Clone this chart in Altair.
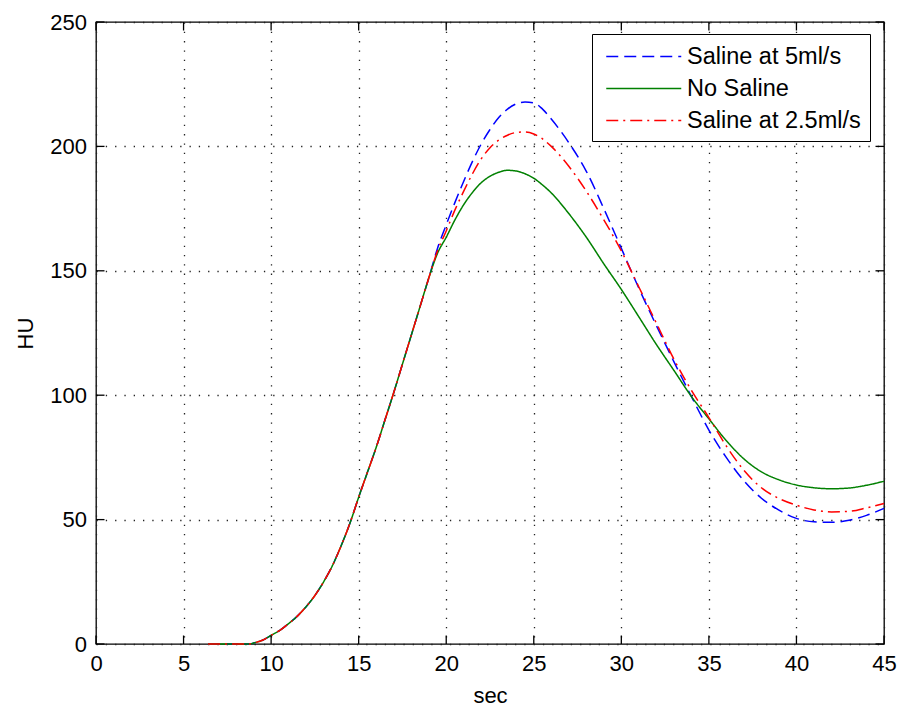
import altair as alt
import pandas as pd

# ---- data ----
series_names = ["Saline at 5ml/s", "No Saline", "Saline at 2.5ml/s"]
series_colors = ["#0000ff", "#008000", "#ff0000"]
series_dashes = [[12, 6], [1, 0], [12, 5, 2, 5]]

# common rising part (all three curves coincide)
sec_common = [6.4, 7, 8, 8.8, 9, 9.5, 10, 10.5, 11, 11.5, 12, 12.5, 13, 13.5,
              14, 14.5, 15, 15.5, 16, 16.5, 17, 17.5, 18, 18.5, 19]
hu_common = [0, 0, 0, 0, 0.4, 1.5, 3.5, 5.5, 8.2, 11.2, 15, 19.5, 25, 31.5,
             39.5, 48.5, 59, 69, 79, 90, 101, 112.5, 124, 135.5, 147]

sec_tail = [19.5, 20, 20.5, 21, 21.5, 22, 22.5, 23, 23.5, 24, 24.5, 25, 25.5,
            26, 27, 28, 29, 30, 31, 32, 33, 34, 35, 36, 37, 38, 39, 40, 41,
            42, 43, 44, 45]
hu_saline5 = [159, 168.5, 177.5, 186, 194, 201, 206.8, 211.6, 215, 217.1, 217.8,
              217.5, 215, 211, 201.5, 190, 175, 159, 143, 128, 113.5, 99.5, 86,
              74.9, 65.6, 58.6, 53.8, 50.5, 49.1, 48.9, 49.7, 51.7, 54.5]
hu_nosaline = [157, 163.5, 170.5, 176.6, 181.5, 185.4, 188, 189.6, 190.4, 190.1,
               189, 187.2, 184.5, 181.3, 173, 163.5, 152.8, 142.5, 131.5, 120.4,
               110, 99.5, 90.5, 81.7, 74.4, 69.2, 66, 63.9, 62.8, 62.4, 62.7,
               63.8, 65.4]
hu_saline25 = [158, 166, 174.5, 182, 189, 195, 199.5, 202.5, 204.5, 205.6, 205.8,
               205, 203, 200, 192, 182, 170.5, 158, 143.5, 129, 114.5, 102, 91,
               79.5, 69.8, 62.8, 58.5, 55.8, 53.9, 53.1, 53.3, 54.7, 56.5]

x_ticks = [0, 5, 10, 15, 20, 25, 30, 35, 40, 45]
y_ticks = [0, 50, 100, 150, 200, 250]

rows = []
for name, tail in zip(series_names, [hu_saline5, hu_nosaline, hu_saline25]):
    for s, h in zip(sec_common + sec_tail, hu_common + tail):
        rows.append({"sec": s, "HU": h, "series": name})
df = pd.DataFrame(rows)
df_xt = pd.DataFrame({"tick": x_ticks})
df_yt = pd.DataFrame({"tick": y_ticks})

W, H = 788, 622
FONT = "Liberation Sans"
TL = 8.5

xscale = alt.Scale(domain=[0, 45], nice=False, zero=False)
yscale = alt.Scale(domain=[0, 250], nice=False, zero=False)

xaxis = alt.Axis(values=x_ticks, title="sec", labelPadding=9, labelFlush=False,
                 titleBaseline="alphabetic", titleY=58)
yaxis = alt.Axis(values=y_ticks, title="HU", labelPadding=9.5, labelFlush=False,
                 titleBaseline="alphabetic", titleX=-64, titleY=H / 2,
                 titleAngle=270)

color = alt.Color(
    "series:N",
    scale=alt.Scale(domain=series_names, range=series_colors),
    legend=alt.Legend(
        title=None, orient="none", legendX=496, legendY=12,
        symbolType="M-0.66,0H5.34", symbolSize=625, symbolStrokeWidth=1.5,
        labelFont=FONT, labelFontSize=23.5, labelColor="black", labelOffset=59,
        labelLimit=400, padding=9, rowPadding=7,
        strokeColor="black", fillColor="white",
    ),
)
dash = alt.StrokeDash(
    "series:N",
    scale=alt.Scale(domain=series_names, range=series_dashes),
)

layers = []
for name in series_names:
    ch = alt.Chart(df).transform_filter(alt.datum.series == name).mark_line(
        strokeWidth=1.5, interpolate="monotone"
    ).encode(
        x=alt.X("sec:Q", scale=xscale, axis=xaxis),
        y=alt.Y("HU:Q", scale=yscale, axis=yaxis),
        color=color,
        strokeDash=dash,
    )
    layers.append(ch)

tick_style = dict(color="black", strokeWidth=1.3)
bottom_ticks = alt.Chart(df_xt).mark_rule(**tick_style).encode(
    x=alt.X("tick:Q", scale=xscale, axis=xaxis),
    y=alt.value(H), y2=alt.value(H - TL))
top_ticks = alt.Chart(df_xt).mark_rule(**tick_style).encode(
    x=alt.X("tick:Q", scale=xscale, axis=xaxis),
    y=alt.value(0), y2=alt.value(TL))
left_ticks = alt.Chart(df_yt).mark_rule(**tick_style).encode(
    y=alt.Y("tick:Q", scale=yscale, axis=yaxis),
    x=alt.value(0), x2=alt.value(TL))
right_ticks = alt.Chart(df_yt).mark_rule(**tick_style).encode(
    y=alt.Y("tick:Q", scale=yscale, axis=yaxis),
    x=alt.value(W), x2=alt.value(W - TL))

chart = alt.layer(
    *layers, bottom_ticks, top_ticks, left_ticks, right_ticks
).properties(
    width=W, height=H,
    autosize=alt.AutoSizeParams(type="none"),
    padding={"left": 96, "top": 22, "right": 15, "bottom": 63},
    background="white",
).configure_view(
    stroke="black", strokeWidth=1.3
).configure_axis(
    labelFont=FONT, labelFontSize=22, labelColor="black",
    titleFont=FONT, titleFontSize=22, titleFontWeight="normal", titleColor="black",
    domain=False, ticks=False, tickSize=0,
    grid=True, gridColor="#222222", gridDash=[1.3, 8], gridWidth=1.3, gridOpacity=1,
)

chart.save("out.html", embed_options={"renderer": "svg", "actions": False})
